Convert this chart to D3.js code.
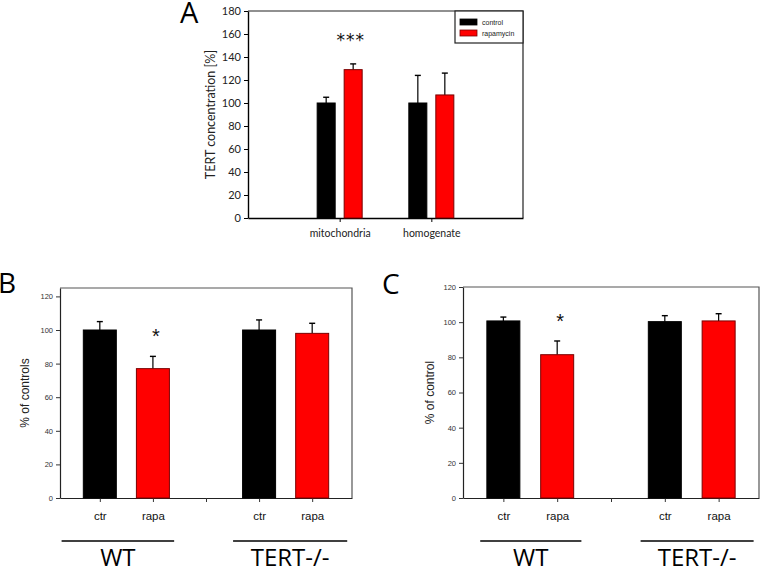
<!DOCTYPE html>
<html>
<head>
<meta charset="utf-8">
<script src="https://cdn.jsdelivr.net/npm/d3@7"></script>
<style>
  html, body { margin: 0; padding: 0; background: #fff; }
  svg { display: block; }
</style>
</head>
<body>
<svg id="chart" width="761" height="569"></svg>
<script>
// ---------- DATA ----------
// Panel A
const categoriesA = ["mitochondria", "homogenate"];
const seriesA = ["control", "rapamycin"];
const controlA = [100, 100];
const controlErrA = [5, 24];
const rapamycinA = [129, 107];
const rapamycinErrA = [5, 19];
const yTicksA = [0, 20, 40, 60, 80, 100, 120, 140, 160, 180];

// Panels B and C (shared x slots)
const slotKeys = ["WT-ctr", "WT-rapa", "gap", "TERT-ctr", "TERT-rapa"];
const slotLabels = ["ctr", "rapa", "", "ctr", "rapa"];
const slotSeries = ["control", "rapamycin", null, "control", "rapamycin"];
const groups = ["WT", "TERT-/-"];
const groupSlots = [["WT-ctr", "WT-rapa"], ["TERT-ctr", "TERT-rapa"]];

const valuesB = [100, 77, null, 100, 98];
const errB = [5, 7.3, null, 6, 6];
const yTicksB = [0, 20, 40, 60, 80, 100, 120];

const valuesC = [100.7, 81.5, null, 100.3, 100.7];
const errC = [2.2, 7.8, null, 3.4, 4.1];
const yTicksC = [0, 20, 40, 60, 80, 100, 120];

// ---------- STYLE ----------
const fill = { control: "#000000", rapamycin: "#ff0000" };
const stroke = { control: "#000000", rapamycin: "#7a0000" };

const svg = d3.select("#chart");

function errorBar(g, cx, yTop, yErr, capW) {
  g.append("line").attr("x1", cx).attr("x2", cx).attr("y1", yTop).attr("y2", yErr)
    .attr("stroke", "#000").attr("stroke-width", 1.2);
  g.append("line").attr("x1", cx - capW / 2).attr("x2", cx + capW / 2).attr("y1", yErr).attr("y2", yErr)
    .attr("stroke", "#000").attr("stroke-width", 1.4);
}

// ---------- PANEL A ----------
(function () {
  const L = 248, R = 523, T = 11, B = 218;
  const g = svg.append("g");
  const y = d3.scaleLinear().domain([0, 180]).range([B, T]);
  const x = d3.scalePoint().domain(categoriesA).range([L, R]).padding(1);
  const xs = d3.scaleBand().domain(seriesA).range([-22.5, 22.5]).paddingInner(0.333).paddingOuter(0);

  // frame top/right
  g.append("path").attr("d", `M${L},${T}H${R}V${B}`).attr("fill", "none").attr("stroke", "#222").attr("stroke-width", 1.2);

  const yAxis = d3.axisLeft(y).tickValues(yTicksA).tickSize(4).tickPadding(3).tickSizeOuter(0);
  const ya = g.append("g").attr("transform", `translate(${L},0)`).call(yAxis);
  ya.select(".domain").attr("stroke", "#000").attr("stroke-width", 1.4);
  ya.selectAll("text").attr("font-family", "Lato, 'Open Sans', sans-serif").attr("font-size", 11).attr("fill", "#222");

  const xAxis = d3.axisBottom(x).tickSize(4).tickPadding(8).tickSizeOuter(0);
  const xa = g.append("g").attr("transform", `translate(0,${B})`).call(xAxis);
  xa.select(".domain").attr("stroke", "#000").attr("stroke-width", 1.4);
  xa.selectAll("text").attr("font-family", "Lato, 'Open Sans', sans-serif").attr("font-size", 10.5).attr("fill", "#222");

  const series = [
    { name: "control", vals: controlA, errs: controlErrA },
    { name: "rapamycin", vals: rapamycinA, errs: rapamycinErrA }
  ];
  series.forEach(s => {
    categoriesA.forEach((c, i) => {
      const x0 = x(c) + xs(s.name);
      const cx = x0 + xs.bandwidth() / 2;
      errorBar(g, cx, y(s.vals[i]), y(s.vals[i] + s.errs[i]), 6);
      g.append("rect").attr("x", x0).attr("y", y(s.vals[i]))
        .attr("width", xs.bandwidth()).attr("height", B - y(s.vals[i]))
        .attr("fill", fill[s.name]).attr("stroke", stroke[s.name]).attr("stroke-width", 1);
    });
  });

  // significance
  g.append("text").attr("x", x("mitochondria") + 11).attr("y", 46).attr("text-anchor", "middle")
    .attr("font-family", "'DejaVu Sans', sans-serif").attr("font-size", 17).attr("letter-spacing", 1)
    .attr("fill", "#111").text("***");

  // y label
  g.append("text").attr("transform", `translate(215,${(T + B) / 2}) rotate(-90)`)
    .attr("text-anchor", "middle").attr("font-family", "Lato, 'Open Sans', sans-serif").attr("font-size", 12.5)
    .attr("fill", "#222").text("TERT concentration [%]");

  // legend
  const lg = g.append("g");
  lg.append("rect").attr("x", 455).attr("y", T).attr("width", R - 455).attr("height", 32)
    .attr("fill", "#fff").attr("stroke", "#222").attr("stroke-width", 1.2);
  seriesA.forEach((s, i) => {
    lg.append("rect").attr("x", 460).attr("y", 19 + i * 11).attr("width", 17).attr("height", 6)
      .attr("fill", fill[s]).attr("stroke", stroke[s]).attr("stroke-width", 0.8);
    lg.append("text").attr("x", 482).attr("y", 25 + i * 11)
      .attr("font-family", "'Liberation Sans', Arial, sans-serif").attr("font-size", 7).attr("fill", "#222").text(s);
  });

  // panel letter
  svg.append("text").attr("x", 180).attr("y", 23).attr("font-family", "'Open Sans', sans-serif")
    .attr("font-size", 29).attr("fill", "#000").text("A");
})();

// ---------- PANELS B & C ----------
function drawPanel(cfg) {
  const { L, R, T, B, ymax, vals, errs, ticks, ylabel, ylabelX, letter, letterX, letterY, starY, lineExt } = cfg;
  const g = svg.append("g");
  const y = d3.scaleLinear().domain([0, ymax]).range([B, T]);
  const x = d3.scalePoint().domain(slotKeys).range([L, R]).padding(0.75);
  const bw = 33;

  g.append("path").attr("d", `M${L},${T}H${R}V${B}`).attr("fill", "none").attr("stroke", "#555").attr("stroke-width", 1.2);

  const ya = g.append("g").attr("transform", `translate(${L},0)`)
    .call(d3.axisLeft(y).tickValues(ticks).tickSize(4).tickPadding(3).tickSizeOuter(0));
  ya.select(".domain").attr("stroke", "#222").attr("stroke-width", 1.2);
  ya.selectAll(".tick line").attr("stroke", "#333");
  ya.selectAll("text").attr("font-family", "'Liberation Sans', Arial, sans-serif").attr("font-size", 7.5).attr("fill", "#333");

  const xa = g.append("g").attr("transform", `translate(0,${B})`)
    .call(d3.axisBottom(x).tickSize(4).tickPadding(10).tickSizeOuter(0)
      .tickFormat((d, i) => slotLabels[slotKeys.indexOf(d)]));
  xa.select(".domain").attr("stroke", "#222").attr("stroke-width", 1.2);
  xa.selectAll(".tick line").attr("stroke", "#333");
  xa.selectAll("text").attr("font-family", "'Liberation Sans', Arial, sans-serif").attr("font-size", 11.5).attr("fill", "#111");

  slotKeys.forEach((k, i) => {
    if (vals[i] == null) return;
    const s = slotSeries[i];
    const cx = x(k);
    errorBar(g, cx, y(vals[i]), y(vals[i] + errs[i]), 6);
    g.append("rect").attr("x", cx - bw / 2).attr("y", y(vals[i])).attr("width", bw).attr("height", B - y(vals[i]))
      .attr("fill", fill[s]).attr("stroke", stroke[s]).attr("stroke-width", 1);
  });

  // significance star over WT rapa
  g.append("text").attr("x", x("WT-rapa") + 3).attr("y", starY).attr("text-anchor", "middle")
    .attr("font-family", "'Liberation Sans', Arial, sans-serif").attr("font-size", 20).attr("fill", "#111").text("*");

  // y label
  g.append("text").attr("transform", `translate(${ylabelX},${(T + B) / 2}) rotate(-90)`)
    .attr("text-anchor", "middle").attr("font-family", "'Liberation Sans', Arial, sans-serif").attr("font-size", 12)
    .attr("fill", "#222").text(ylabel);

  // group lines & labels
  const step = x.step();
  groups.forEach((grp, gi) => {
    const [a, b] = groupSlots[gi];
    const x1 = x(a) + lineExt[gi][0] * step, x2 = x(b) + lineExt[gi][1] * step;
    g.append("line").attr("x1", x1).attr("x2", x2).attr("y1", 541).attr("y2", 541)
      .attr("stroke", "#000").attr("stroke-width", 1.3);
    g.append("text").attr("x", (x1 + x2) / 2).attr("y", 566).attr("text-anchor", "middle")
      .attr("font-family", "'Open Sans', sans-serif").attr("font-size", 24).attr("fill", "#000").text(grp);
  });

  svg.append("text").attr("x", letterX).attr("y", letterY).attr("font-family", "'Open Sans', sans-serif")
    .attr("font-size", 28).attr("fill", "#000").text(letter);
}

drawPanel({
  L: 60, R: 352, T: 288, B: 498, ymax: 125, vals: valuesB, errs: errB, ticks: yTicksB,
  ylabel: "% of controls", ylabelX: 29, letter: "B", letterX: -2, letterY: 293, starY: 343,
  lineExt: [[-0.72, 0.4], [-0.49, 0.66]]
});
drawPanel({
  L: 463, R: 759, T: 287, B: 498, ymax: 120, vals: valuesC, errs: errC, ticks: yTicksC,
  ylabel: "% of control", ylabelX: 434, letter: "C", letterX: 382, letterY: 294, starY: 328,
  lineExt: [[-0.43, 0.45], [-0.45, 0.65]]
});
</script>
</body>
</html>
